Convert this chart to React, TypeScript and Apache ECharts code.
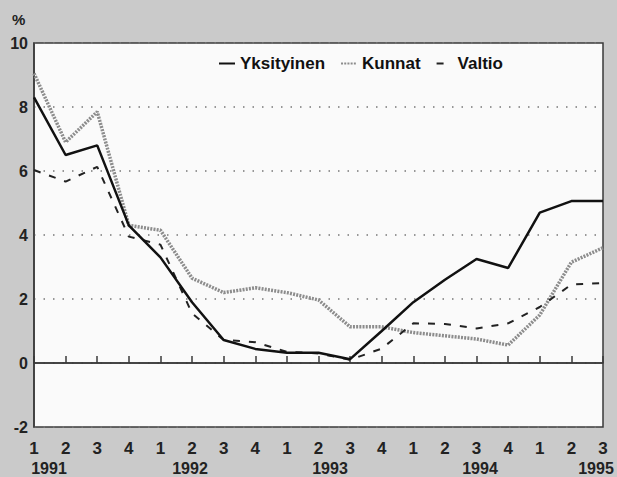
import React, { useEffect, useRef } from "react";
import * as echarts from "echarts";

const quarters = ["1", "2", "3", "4", "1", "2", "3", "4", "1", "2", "3", "4", "1", "2", "3", "4", "1", "2", "3"];
const years = ["1991", "1992", "1993", "1994", "1995"];
const yksityinen = [8.3, 6.5, 6.8, 4.3, 3.3, 1.9, 0.72, 0.44, 0.32, 0.32, 0.12, 1.0, 1.9, 2.6, 3.25, 2.97, 4.7, 5.06, 5.06];
const kunnat = [9.05, 6.9, 7.85, 4.3, 4.15, 2.65, 2.2, 2.35, 2.2, 1.97, 1.13, 1.13, 0.95, 0.85, 0.75, 0.56, 1.5, 3.15, 3.6];
const valtio = [6.03, 5.67, 6.13, 3.95, 3.7, 1.55, 0.72, 0.65, 0.35, 0.3, 0.1, 0.45, 1.24, 1.22, 1.08, 1.24, 1.75, 2.45, 2.5];
const yTicks = { min: -2, max: 10, interval: 2 };

const FONT = "'Liberation Sans', Arial, Helvetica, sans-serif";

export default function App() {
  const ref = useRef<HTMLDivElement>(null);
  useEffect(() => {
    if (!ref.current) return;
    const chart = echarts.init(ref.current, null, { renderer: "svg" });
    const yearX = [49, 190, 330, 480, 596];
    chart.setOption({
      animation: false,
      backgroundColor: "#cacaca",
      textStyle: { fontFamily: FONT },
      grid: {
        left: 34,
        right: 14,
        top: 43,
        bottom: 50,
        show: true,
        backgroundColor: "#fafafa",
        borderColor: "#3a3a3a",
        borderWidth: 1.5,
      },
      legend: {
        left: 213,
        top: 50,
        itemWidth: 16,
        itemHeight: 14,
        itemGap: 15,
        itemStyle: { opacity: 0 },
        textStyle: { fontSize: 17, fontWeight: "bold", color: "#111", fontFamily: FONT },
        data: ["Yksityinen", "Kunnat", "Valtio"],
      },
      xAxis: {
        type: "category",
        data: quarters,
        boundaryGap: false,
        axisLine: { lineStyle: { color: "#3a3a3a", width: 1.5 } },
        axisTick: { inside: true, length: 7, interval: 0, lineStyle: { color: "#3a3a3a", width: 1.5 } },
        axisLabel: { interval: 0, margin: 13, fontSize: 17, fontWeight: "bold", color: "#222", fontFamily: FONT },
        splitLine: { show: false },
      },
      yAxis: {
        type: "value",
        min: yTicks.min,
        max: yTicks.max,
        interval: yTicks.interval,
        axisLine: { show: true, lineStyle: { color: "#3a3a3a", width: 1.5 } },
        axisTick: { show: false },
        axisLabel: { margin: 6, fontSize: 16, fontWeight: "bold", color: "#222", fontFamily: FONT },
        splitLine: { show: true, lineStyle: { color: "#777", width: 1.5, type: [1.5, 8] } },
      },
      graphic: [
        { type: "text", left: 12, top: 12, style: { text: "%", fontSize: 15, fontWeight: "bold", fill: "#222", fontFamily: FONT } },
        ...years.map((y, i) => ({
          type: "text",
          x: yearX[i],
          y: 460,
          style: { text: y, fontSize: 16, fontWeight: "bold", fill: "#222", fontFamily: FONT, textAlign: "center" },
        })),
      ],
      series: [
        {
          name: "Kunnat",
          type: "line",
          data: kunnat,
          symbol: "none",
          lineStyle: { color: "#8c8c8c", width: 3.5, type: [2, 1.2] },
          itemStyle: { color: "#8c8c8c" },
          z: 2,
        },
        {
          name: "Valtio",
          type: "line",
          data: valtio,
          symbol: "none",
          lineStyle: { color: "#222", width: 2, type: [7, 9] },
          itemStyle: { color: "#222" },
          z: 3,
        },
        {
          name: "Yksityinen",
          type: "line",
          data: yksityinen,
          symbol: "none",
          lineStyle: { color: "#111", width: 2.5 },
          itemStyle: { color: "#111" },
          z: 4,
          markLine: {
            silent: true,
            symbol: "none",
            label: { show: false },
            lineStyle: { color: "#3a3a3a", width: 1.5, type: "solid" },
            data: [{ yAxis: 0 }],
          },
        },
      ],
    });
    return () => chart.dispose();
  }, []);
  return <div ref={ref} style={{ position: "absolute", left: 0, top: 0, width: 617, height: 477 }} />;
}
